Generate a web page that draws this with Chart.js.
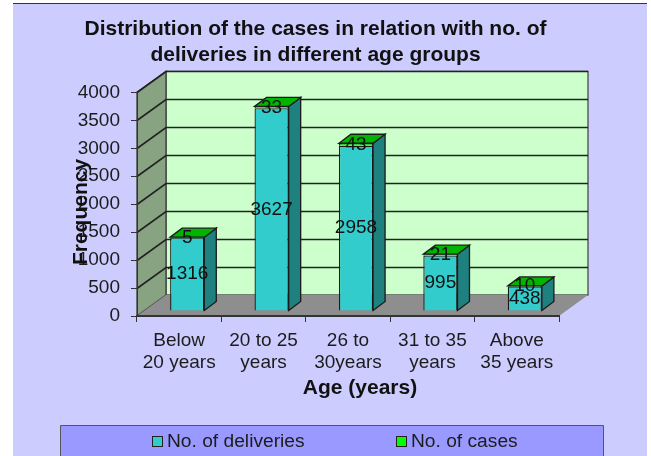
<!DOCTYPE html>
<html>
<head>
<meta charset="utf-8">
<script src="https://cdn.jsdelivr.net/npm/chart.js@4"></script>
<style>
html, body { margin: 0; padding: 0; background: #fff; }
#wrap { width: 651px; height: 456px; }
canvas { filter: blur(0.35px); }
</style>
</head>
<body>
<div id="wrap"><canvas id="myChart" width="651" height="456"></canvas></div>
<script>
const ageGroups = [['Below', '20 years'], ['20 to 25', 'years'], ['26 to', '30years'], ['31 to 35', 'years'], ['Above', '35 years']];
const deliveries = [1316, 3627, 2958, 995, 438];
const cases = [5, 33, 43, 21, 10];
const yTicks = [0, 500, 1000, 1500, 2000, 2500, 3000, 3500, 4000];
const xAxisTitle = 'Age (years)';
const yAxisTitle = 'Frequency';

const textColor = '#1c1c1c';
const fontName = '"Liberation Sans", Arial, sans-serif';

// depth of the fake 3d box and of the bars inside it
const wallDx = 29, wallDy = -21;
const barShiftX = 8, barShiftY = -5;
const barDx = 12, barDy = -9;

function poly(c, pts, fill, stroke, lw) {
    c.beginPath();
    pts.forEach((p, i) => i ? c.lineTo(p[0], p[1]) : c.moveTo(p[0], p[1]));
    c.closePath();
    if (fill) { c.fillStyle = fill; c.fill(); }
    if (stroke) { c.strokeStyle = stroke; c.lineWidth = lw || 1; c.stroke(); }
}

const box3d = {
    id: 'box3d',
    beforeDraw(chart) {
        const c = chart.ctx;
        const { left, right, top, bottom } = chart.chartArea;
        const y = chart.scales.y;
        c.save();
        // panel
        c.fillStyle = '#ccccff';
        c.fillRect(13, 4, 634, 452);
        c.fillStyle = '#333';
        c.fillRect(13, 3, 634, 1);
        // back wall, side wall, floor
        poly(c, [[left + wallDx, top + wallDy], [right + wallDx, top + wallDy], [right + wallDx, bottom + wallDy], [left + wallDx, bottom + wallDy]], '#ccffcc', '#555', 1.4);
        poly(c, [[left, top], [left + wallDx, top + wallDy], [left + wallDx, bottom + wallDy], [left, bottom]], '#87a381', '#444', 1.4);
        // grid lines run along side wall and back wall
        yTicks.forEach(v => {
            if (v === 0) return;
            const py = Math.round(y.getPixelForValue(v)) + 0.5;
            c.beginPath();
            c.moveTo(left, py);
            c.lineTo(left + wallDx, py + wallDy);
            c.lineTo(right + wallDx, py + wallDy);
            c.strokeStyle = '#222';
            c.lineWidth = 1.6;
            c.stroke();
        });
        poly(c, [[left, bottom], [right, bottom], [right + wallDx, bottom + wallDy], [left + wallDx, bottom + wallDy]], '#8e8e8e', null);
        c.restore();
    },
    beforeDatasetsDraw(chart) {
        chart.ctx.save();
        chart.ctx.translate(barShiftX, barShiftY);
    },
    afterDatasetsDraw(chart) {
        const c = chart.ctx;
        const lower = chart.getDatasetMeta(0).data;
        const upper = chart.getDatasetMeta(1).data;
        lower.forEach((bar, i) => {
            const top = upper[i];
            const x0 = bar.x - bar.width / 2, x1 = bar.x + bar.width / 2;
            poly(c, [[x1, bar.base], [x1 + barDx, bar.base + barDy], [x1 + barDx, top.y + barDy], [x1, top.y]], '#1f8080', '#1a1a1a', 1.3);
            poly(c, [[x0, top.y], [x1, top.y], [x1 + barDx, top.y + barDy], [x0 + barDx, top.y + barDy]], '#00b400', '#1a1a1a', 1.3);
        });
        c.restore();

        // value labels, centred on each front face
        c.save();
        c.font = '19px ' + fontName;
        c.fillStyle = '#111';
        c.textAlign = 'center';
        c.textBaseline = 'middle';
        [lower, upper].forEach((bars, d) => {
            bars.forEach((bar, i) => {
                const v = chart.data.datasets[d].data[i];
                c.fillText(String(v), bar.x + barShiftX, (bar.y + bar.base) / 2 + barShiftY);
            });
        });
        c.restore();
    },
    afterDraw(chart) {
        const c = chart.ctx;
        c.save();
        // axis titles sit off-centre here, so they are placed by hand
        c.font = 'bold 21px ' + fontName;
        c.fillStyle = '#111';
        c.textAlign = 'center';
        c.textBaseline = 'middle';
        c.fillText(xAxisTitle, 360, 388);
        c.save();
        c.translate(81, 212);
        c.rotate(-Math.PI / 2);
        c.fillText(yAxisTitle, 0, 0);
        c.restore();

        // legend band along the bottom edge
        poly(c, [[60.5, 425.5], [603.5, 425.5], [603.5, 470], [60.5, 470]], '#9999ff', '#555', 1);
        c.font = '19.2px ' + fontName;
        c.textAlign = 'left';
        [152, 396].forEach((x, i) => {
            const ds = chart.data.datasets[i];
            c.fillStyle = ds.backgroundColor;
            c.strokeStyle = '#222';
            c.lineWidth = 1;
            c.fillRect(x + 0.5, 436.5, 10, 10);
            c.strokeRect(x + 0.5, 436.5, 10, 10);
            c.fillStyle = textColor;
            c.fillText(ds.label, x + 15, 442);
        });
        c.restore();
    }
};

const ctx = document.getElementById('myChart').getContext('2d');

const myChart = new Chart(ctx, {
    type: 'bar',
    data: {
        labels: ageGroups,
        datasets: [
            { label: 'No. of deliveries', data: deliveries, backgroundColor: '#33cccc', borderColor: '#1a1a1a', borderWidth: 1.3 },
            { label: 'No. of cases', data: cases, backgroundColor: '#00ff00', borderColor: '#1a1a1a', borderWidth: 1.3 }
        ]
    },
    options: {
        responsive: false,
        animation: false,
        layout: { padding: { left: 72, right: 92, top: 0, bottom: 54 } },
        categoryPercentage: 1,
        barPercentage: 34 / 84,
        scales: {
            x: {
                stacked: true,
                grid: { offset: true, drawOnChartArea: false, color: '#333', tickLength: 6 },
                border: { color: '#333', width: 2 },
                ticks: { color: textColor, font: { family: fontName, size: 19, lineHeight: 1.2 }, maxRotation: 0, autoSkip: false, padding: 7 },
                afterFit(scale) { scale.height = 86; }
            },
            y: {
                stacked: true,
                min: 0,
                max: 4000,
                grid: { drawOnChartArea: false, color: '#333', tickLength: 6 },
                border: { color: '#333', width: 1 },
                ticks: { color: textColor, stepSize: 500, font: { family: fontName, size: 19 }, padding: 11, callback: v => String(v) },
                afterFit(scale) { scale.width = 65; }
            }
        },
        plugins: {
            legend: { display: false },
            tooltip: { enabled: false },
            title: {
                display: true,
                text: ['Distribution of the cases in relation with no. of', 'deliveries in different age groups'],
                color: '#111',
                font: { family: fontName, size: 21, weight: 'bold', lineHeight: 1.2 },
                padding: { top: 17, bottom: 25 }
            }
        }
    },
    plugins: [box3d]
});
</script>
</body>
</html>
